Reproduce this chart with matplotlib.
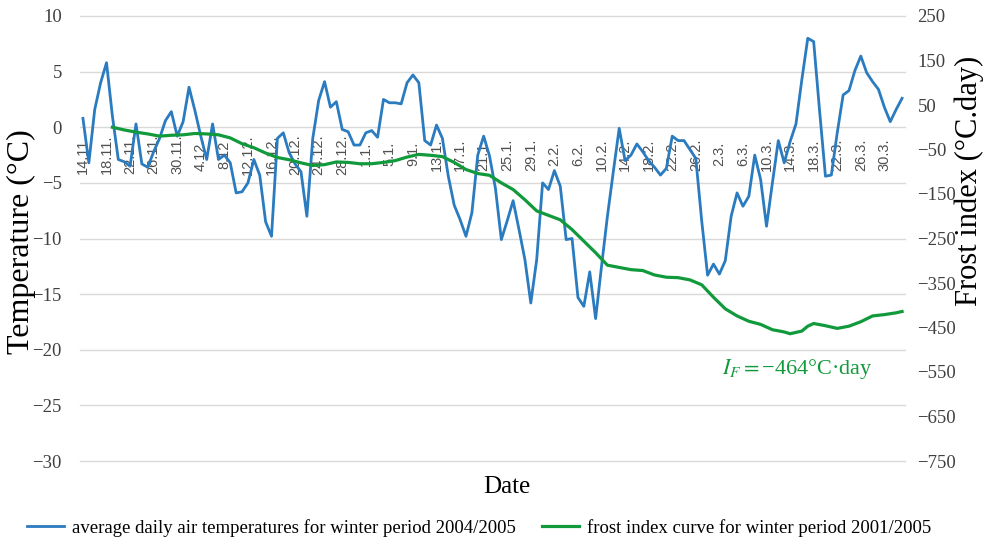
import matplotlib
matplotlib.use("Agg")
import matplotlib.pyplot as plt
import numpy as np

plt.rcParams["mathtext.fontset"] = "stix"

BLUE  = "#2a7bbf"
GREEN = "#119a3b"
SERIF = "Liberation Serif"

# average daily air temperature, one value per day from 14.11. to 2.4.
temp = [
     0.8, -3.2,  1.6,  4.0,  5.8,  1.0, -2.9, -3.1, -3.5,  0.3,
    -3.3, -3.6, -2.2, -1.0,  0.6,  1.4, -0.8,  0.5,  3.6,  1.5,
    -0.8, -2.9,  0.3, -2.9, -2.5, -3.2, -5.9, -5.8, -5.0, -2.9,
    -4.3, -8.5, -9.8, -1.0, -0.5, -2.3, -3.3, -4.0, -8.0, -1.0,
     2.4,  4.1,  1.8,  2.3, -0.2, -0.4, -1.6, -1.6, -0.5, -0.3,
    -0.9,  2.5,  2.2,  2.2,  2.1,  4.0,  4.7,  4.0, -1.2, -1.6,
     0.2, -1.0, -4.4, -7.0, -8.3, -9.8, -7.7, -2.5, -0.8, -2.6,
    -5.5,-10.1, -8.4, -6.6, -9.2,-11.9,-15.8,-11.9, -5.0, -5.6,
    -3.9, -5.3,-10.1,-10.0,-15.3,-16.1,-13.0,-17.2,-12.5, -8.0,
    -4.0, -0.1, -3.0, -2.5, -1.5, -2.2, -3.0, -3.6, -4.3, -3.7,
    -0.8, -1.2, -1.2, -2.0, -2.8, -8.4,-13.3,-12.3,-13.2,-12.0,
    -8.0, -5.9, -7.1, -6.2, -2.5, -4.7, -8.9, -5.0, -1.2, -3.2,
    -1.3,  0.3,  4.3,  8.0,  7.7,  1.5, -4.4, -4.3, -0.5,  2.9,
     3.3,  5.1,  6.4,  4.9,  4.1,  3.4,  1.8,  0.5,  1.6,  2.6,
]

# frost index curve (read every second day or so)
frost_days = [5, 7, 9, 11, 13, 15, 17, 19, 21, 23, 25, 27, 29, 31, 33, 35,
              37, 39, 41, 43, 45, 47, 49, 51, 53, 55, 57, 59, 61, 63, 65,
              67, 69, 71, 73, 75, 77, 79, 81, 83, 85, 87, 89, 91, 93, 95,
              97, 99, 101, 103, 105, 107, 109, 111, 113, 115, 117, 119,
              120, 122, 123, 124, 126, 128, 130, 132, 134, 136, 138, 139]
frost_vals = [0, -6, -11, -15, -20, -18, -17, -14, -15, -17, -24, -37, -46,
              -58, -68, -73, -80, -86, -84, -78, -79, -82, -82, -79, -75,
              -67, -61, -63, -66, -79, -95, -104, -108, -125, -140, -163,
              -188, -198, -208, -230, -256, -282, -310, -315, -320, -322,
              -332, -337, -338, -343, -354, -382, -408, -424, -436, -443,
              -455, -460, -464, -458, -447, -441, -446, -452, -447, -437,
              -424, -421, -417, -414]

tick_labels = ["14.11.", "18.11.", "22.11.", "26.11.", "30.11.", "4.12.",
               "8.12", "12.12.", "16.12.", "20.12.", "24.12.", "28.12.",
               "1.1.", "5.1.", "9.1.", "13.1.", "17.1.", "21.1.", "25.1.",
               "29.1.", "2.2.", "6.2.", "10.2.", "14.2.", "18.2.", "22.2.",
               "26.2.", "2.3.", "6.3.", "10.3.", "14.3.", "18.3.", "22.3.",
               "26.3.", "30.3."]

days = np.arange(len(temp))

fig = plt.figure(figsize=(9.87, 5.42), dpi=100)
ax = fig.add_axes([80 / 987, 1 - 461 / 542, 825 / 987, 445 / 542])
ax2 = ax.twinx()

l1, = ax.plot(days, temp, color=BLUE, linewidth=2.0, zorder=3)
l2, = ax2.plot(frost_days, frost_vals, color=GREEN, linewidth=2.3)

ax.set_xlim(-0.5, len(temp) - 0.5)
ax.set_ylim(-30, 10)
ax.set_yticks(np.arange(-30, 11, 5))
ax2.set_ylim(-750, 250)
ax2.set_yticks(np.arange(-750, 251, 100))
ax.grid(axis="y", color="#d9d9d9", linewidth=1.0)
ax.set_axisbelow(True)
for gl in ax.get_ygridlines():
    gl.set_clip_on(False)

for a in (ax, ax2):
    for s in a.spines.values():
        s.set_visible(False)
ax.spines["bottom"].set_position(("data", 0))

ax.set_xticks(np.arange(0, len(tick_labels) * 4, 4))
ax.set_xticklabels(tick_labels)
ax.tick_params(axis="x", length=0, pad=19.5, labelsize=10.5,
               labelcolor="#505050", labelrotation=90)
for lab in ax.get_xticklabels():
    lab.set_va("center")
    lab.set_family("Liberation Sans")

ax.tick_params(axis="y", length=0, pad=13, labelsize=13.5, labelcolor="#404040")
ax2.tick_params(axis="y", length=0, pad=9, labelsize=13.5, labelcolor="#404040")
for lab in ax.get_yticklabels() + ax2.get_yticklabels():
    lab.set_family(SERIF)

fig.text(21 / 987, 1 - 242 / 542, "Temperature (°C)", rotation=90,
         ha="center", va="center", fontsize=23, family=SERIF)
fig.text(969 / 987, 1 - 181 / 542, "Frost index (°C.day)", rotation=90,
         ha="center", va="center", fontsize=22, family=SERIF)
fig.text(507 / 987, 1 - 487 / 542, "Date", ha="center", va="center",
         fontsize=18, family=SERIF)

ax.text(121.3, -21.7, r"$I_F =$−464°C·day", ha="center", va="center",
        color=GREEN, fontsize=16, family=SERIF)

fig.legend([l1, l2],
           ["average daily air temperatures for winter period 2004/2005",
            "frost index curve for winter period 2001/2005"],
           loc="center", bbox_to_anchor=(0.485, 0.026), ncol=2, frameon=False,
           prop={"family": SERIF, "size": 13.5}, handlelength=2.0,
           handletextpad=0.4, columnspacing=1.4)

fig.savefig("out.png", dpi=100)
